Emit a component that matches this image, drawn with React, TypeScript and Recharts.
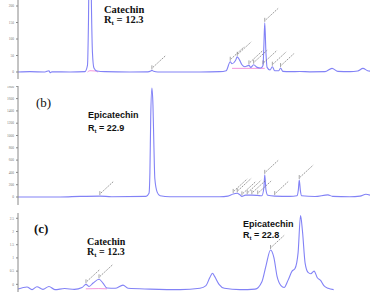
import React from 'react'
import { LineChart, Line, XAxis, YAxis, ReferenceDot } from 'recharts'

// ── (a) catechin standard: retention time (min) / absorbance (mAU)
const timeA = [0, 2.05, 4.6, 5.3, 5.47, 5.8, 8.9, 11.45, 11.88, 12.05, 12.22, 12.4, 12.56, 12.73, 12.99, 13.5, 14.9, 19.1, 22.2, 22.7, 22.9, 23.2, 23.9, 31.1, 34.5, 35.6, 36.3, 36.6, 37.2, 37.5, 37.9, 38.3, 38.8, 39.5, 39.8, 40.3, 40.9, 41.5, 41.9, 42.05, 42.2, 42.4, 42.6, 43.1, 43.5, 43.9, 44.6, 44.9, 45.3, 46.5, 48.2, 49.9, 52.5, 53.7, 54.7, 56.75, 58.1, 59.0, 59.8, 60.5]
const signalA = [0, 1, 0, 4, -2, 0.5, 0, 1, 20, 150, 420, 420, 200, 60, 12, 3, 1, 0, 0.5, 3, 5, 2, 0, 0, 1, 4, 31, 25, 35, 46, 36, 22, 16, 20, 14, 22, 14, 12, 20, 80, 149, 60, 14, 6, 16, 4, 4, 12, 2, 1, 1.5, 0.5, 1, 11, 2, 1, 3, 11, 4, 2]
// integration baselines (null = gap between peaks)
const pinkTimeA = [11.9, 12.3, 13.2, 13.7, 25, 36.6, 39.0, 42.2]
const pinkA = [0, 4, 3, 0, null, 11, 11, 11]
const tagTimeA = [22.9, 36.3, 37.5, 39.5, 40.3, 41.9, 42.2, 43.5, 44.9]
const tagValA = [5, 31, 46, 20, 22, 20, 149, 16, 12]
const ticksA = [0, 50, 100, 150, 200]

// ── (b) epicatechin standard
const timeB = [0, 7.2, 10.6, 14.0, 16.0, 21.9, 22.4, 22.56, 22.7, 22.9, 23.08, 23.25, 23.4, 23.8, 24.3, 26, 34.5, 35.9, 36.8, 37.5, 37.9, 38.3, 38.9, 40.0, 41.0, 41.7, 42.05, 42.2, 42.4, 42.7, 43.9, 46.5, 47.7, 47.95, 48.1, 48.3, 48.5, 50.8, 53.0, 53.8, 56.75, 58.5, 59.5, 60.2]
const signalB = [0, 0, 10, 15, 5, 10, 60, 400, 1300, 1770, 1500, 800, 300, 80, 20, 5, 5, 15, 50, 60, 40, 10, 30, 30, 25, 20, 150, 360, 120, 30, 15, 10, 20, 120, 276, 100, 20, 8, 35, 10, 5, 15, 45, 30]
const tagTimeB = [14.0, 36.8, 37.5, 38.3, 39.2, 40.0, 41.0, 42.2, 43.9, 48.1]
const tagValB = [15, 50, 60, 10, 30, 30, 25, 360, 15, 276]
const ticksB = [0, 200, 400, 600, 800, 1000, 1200, 1400, 1600, 1800]

// ── (c) extract sample, zoomed region
const timeC = [7.24, 7.79, 8.1, 8.4, 8.77, 9.14, 9.5, 10.1, 10.7, 11.17, 11.41, 11.6, 11.85, 12.21, 12.45, 12.7, 13.2, 13.68, 13.99, 15.34, 17.18, 18.4, 18.77, 19.0, 19.17, 19.3, 19.57, 19.9, 20.86, 21.78, 22.2, 22.45, 22.73, 22.94, 23.13, 23.37, 23.56, 23.8, 24.05, 24.23, 24.42, 24.57, 24.69, 24.85, 25.03, 25.2, 25.4, 25.6, 25.8, 26.0, 26.26, 26.6]
const signalC = [-0.18, -0.1, -0.2, -0.09, -0.19, -0.08, -0.2, -0.16, -0.19, -0.12, 0, -0.08, 0.05, 0.19, 0.05, -0.14, -0.15, -0.03, -0.15, -0.18, -0.2, -0.15, -0.05, 0.25, 0.42, 0.3, 0, -0.15, -0.2, -0.18, 0.1, 0.7, 1.3, 1.0, 0.3, -0.05, -0.12, 0.15, 0.5, 0.6, 1.2, 2.6, 2.0, 0.8, 0.45, 0.4, 0.5, 0.25, 0.15, -0.05, -0.15, -0.2]
const pinkTimeC = [11.4, 12.2, 12.7]
const pinkC = [-0.17, -0.16, -0.17]
const tagTimeC = [11.41, 12.21, 22.73]
const tagValC = [0, 0.19, 1.3]
const ticksC = [0, 0.5, 1, 1.5, 2, 2.5]

const BLUE = '#8282f6'
const PINK = '#f28ad8'

const zip = (ts: number[], vs: (number | null)[]) => ts.map((t, i) => ({ t, v: vs[i] }))

function PeakTag(props: any) {
    const { cx, cy } = props
    if (cx == null || cy == null) return null
    return (
        <g>
            <line x1={cx} y1={cy - 1} x2={cx} y2={cy - 5} stroke="#666" strokeWidth={0.6} />
            <line x1={cx + 1} y1={cy - 3} x2={cx + 14} y2={cy - 15} stroke="#777" strokeWidth={0.8} strokeDasharray="1.5 1" />
        </g>
    )
}

type Pt = { t: number; v: number | null }
type PanelProps = {
    top: number
    height: number
    rows: Pt[]
    pink?: Pt[]
    tags: Pt[]
    domainX: [number, number]
    domainY: [number, number]
    ticksY: number[]
    showX: boolean
}

function Panel({ top, height, rows, pink, tags, domainX, domainY, ticksY, showX }: PanelProps) {
    return (
        <div style={{ position: 'absolute', left: 0, top }}>
            <LineChart width={370} height={height} data={rows} margin={{ top: 0, right: 0, bottom: 0, left: 0 }}>
                <XAxis type="number" dataKey="t" domain={domainX} allowDataOverflow height={0}
                    tick={false} tickLine={false} axisLine={showX ? { stroke: '#aaa' } : false} />
                <YAxis type="number" domain={domainY} ticks={ticksY} allowDataOverflow width={18} interval={0}
                    tick={{ fontSize: 3.5, fill: '#777' }} tickSize={2}
                    axisLine={{ stroke: '#888' }} tickLine={{ stroke: '#888' }} />
                {pink && (
                    <Line data={pink} dataKey="v" type="monotone" stroke={PINK} strokeWidth={0.9}
                        dot={false} connectNulls={false} isAnimationActive={false} />
                )}
                <Line dataKey="v" type="monotone" stroke={BLUE} strokeWidth={1.1}
                    dot={false} isAnimationActive={false} />
                {tags.map((p, i) => (
                    <ReferenceDot key={i} x={p.t} y={p.v as number} r={0} shape={<PeakTag />} />
                ))}
            </LineChart>
        </div>
    )
}

export default function App() {
    return (
        <div style={{ position: 'relative', width: 370, height: 292, background: '#fff', overflow: 'hidden' }}>
            <style>{'body{margin:0}'}</style>
            <Panel top={0} height={79} rows={zip(timeA, signalA)} pink={zip(pinkTimeA, pinkA)} tags={zip(tagTimeA, tagValA)}
                domainX={[0, 60.2]} domainY={[-21.2, 218.2]} ticksY={ticksA} showX />
            <Panel top={86} height={119} rows={zip(timeB, signalB)} tags={zip(tagTimeB, tagValB)}
                domainX={[0, 60.2]} domainY={[-130, 1805]} ticksY={ticksB} showX />
            <Panel top={213} height={79} rows={zip(timeC, signalC)} pink={zip(pinkTimeC, pinkC)} tags={zip(tagTimeC, tagValC)}
                domainX={[7.24, 28.83]} domainY={[-0.29, 2.7]} ticksY={ticksC} showX={false} />

            <svg width={370} height={292} style={{ position: 'absolute', left: 0, top: 0, pointerEvents: 'none' }}>
                <g fontFamily="'Liberation Serif', serif" fontWeight="bold" fontSize={10.5} fill="#111">
                    <text x={104} y={13}>Catechin</text>
                    <text x={104} y={23}>R<tspan fontSize={7} dy={2}>t</tspan><tspan dy={-2}> = 12.3</tspan></text>
                </g>
                <text x={36} y={107} fontFamily="'Liberation Serif', serif" fontSize={13} fill="#111">(b)</text>
                <g fontFamily="'Liberation Sans', Arial, sans-serif" fontWeight="bold" fontSize={9} fill="#111">
                    <text x={88} y={118}>Epicatechin</text>
                    <text x={88} y={131}>R<tspan fontSize={6} dy={2}>t</tspan><tspan dy={-2}> = 22.9</tspan></text>
                </g>
                <text x={34} y={233} fontFamily="'Liberation Serif', serif" fontWeight="bold" fontSize={13} fill="#111">(c)</text>
                <g fontFamily="'Liberation Serif', serif" fontWeight="bold" fontSize={10} fill="#111">
                    <text x={87} y={245}>Catechin</text>
                    <text x={87} y={255}>R<tspan fontSize={7} dy={2}>t</tspan><tspan dy={-2}> = 12.3</tspan></text>
                </g>
                <g fontFamily="'Liberation Sans', Arial, sans-serif" fontWeight="bold" fontSize={9} fill="#111">
                    <text x={243} y={227}>Epicatechin</text>
                    <text x={243} y={238}>R<tspan fontSize={6} dy={2}>t</tspan><tspan dy={-2}> = 22.8</tspan></text>
                </g>
            </svg>
        </div>
    )
}
